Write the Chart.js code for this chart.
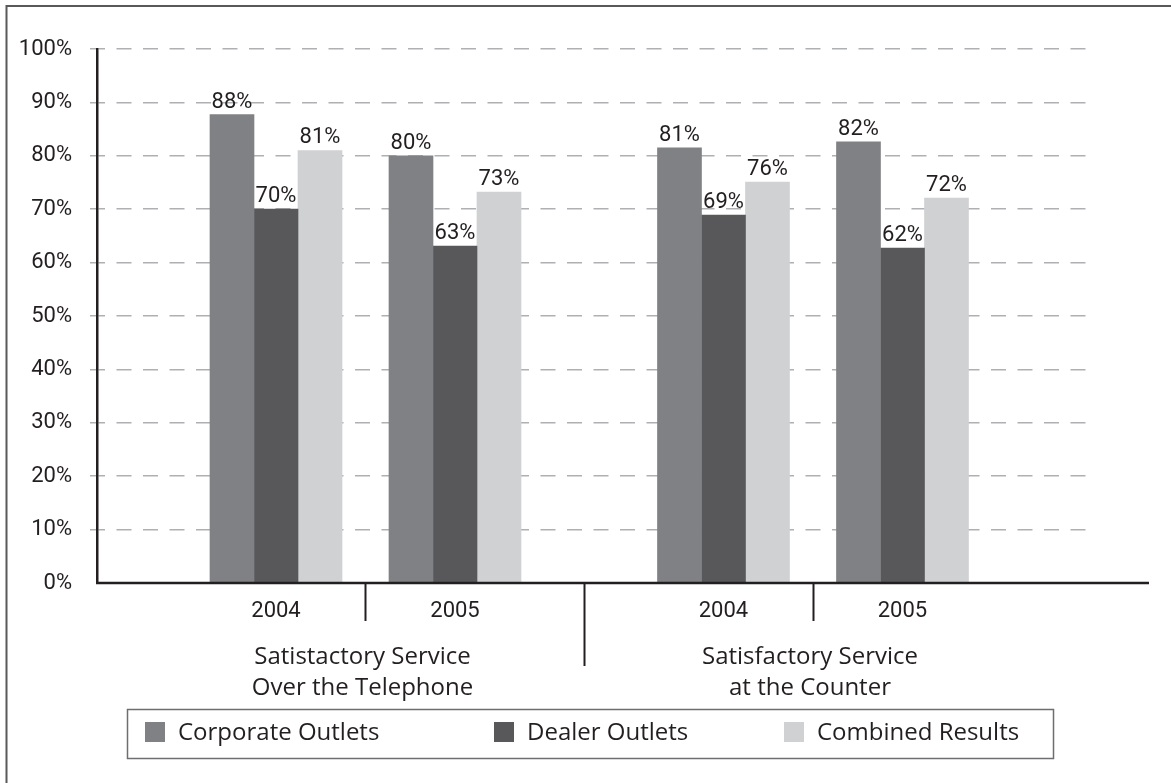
<!DOCTYPE html>
<html>
<head>
<meta charset="utf-8">
<title>Satisfactory Service</title>
<script src="https://cdn.jsdelivr.net/npm/chart.js@4.4.0/dist/chart.umd.min.js"></script>
<style>
  body { margin: 0; background: #fff; }
  canvas { display: block; }
</style>
</head>
<body>
<canvas id="chart" width="1171" height="783"></canvas>
<script>
// values (percent)
const yearLabels = ['2004', '2005', '2004', '2005'];
const xPositions = [1, 2, 3.5, 4.5];
const groupNames = [['Satistactory Service', 'Over the Telephone'], ['Satisfactory Service', 'at the Counter']];
const groupCenters = [1.5, 4];
const dividers = [1.5, 2.72, 4];
const seriesNames = ['Corporate Outlets', 'Dealer Outlets', 'Combined Results'];
const corporate = [87.7, 80.0, 81.5, 82.6];
const dealer = [70.0, 63.1, 68.9, 62.7];
const combined = [81.0, 73.2, 75.1, 72.1];
const corporateText = ['88%', '80%', '81%', '82%'];
const dealerText = ['70%', '63%', '69%', '62%'];
const combinedText = ['81%', '73%', '76%', '72%'];

const ink = '#231f20';
const numberFont = 'Roboto, "DejaVu Sans", sans-serif';
const wordFont = '"Open Sans", Roboto, sans-serif';
Chart.defaults.font.family = numberFont;
Chart.defaults.color = ink;

function points(values) {
    return xPositions.map((x, i) => ({ x: x, y: values[i] }));
}

const decorations = {
    id: 'decorations',
    afterDatasetsDraw(chart) {
        const c = chart.ctx;
        const area = chart.chartArea;
        const xs = chart.scales.x;

        // value labels over the bars
        c.save();
        c.font = '22px ' + numberFont;
        c.fillStyle = ink;
        c.textAlign = 'center';
        c.textBaseline = 'alphabetic';
        chart.data.datasets.forEach((ds, d) => {
            chart.getDatasetMeta(d).data.forEach((bar, i) => {
                c.fillText(ds.valueText[i], bar.x, bar.y - 7);
            });
        });

        // x axis line, runs past the grid
        c.strokeStyle = ink;
        c.lineWidth = 2.5;
        c.beginPath();
        c.moveTo(area.left - 1, area.bottom);
        c.lineTo(chart.width - 22, area.bottom);
        c.stroke();

        // dividers under the axis
        c.lineWidth = 2;
        dividers.forEach((v, i) => {
            const x = Math.round(xs.getPixelForValue(v)) + 0.5;
            c.beginPath();
            c.moveTo(x, area.bottom);
            c.lineTo(x, area.bottom + (i === 1 ? 83 : 38));
            c.stroke();
        });

        // group names
        c.font = '24px ' + wordFont;
        c.textBaseline = 'middle';
        groupNames.forEach((lines, g) => {
            const x = xs.getPixelForValue(groupCenters[g]) - 3;
            lines.forEach((t, k) => c.fillText(t, x, area.bottom + 74 + k * 31));
        });

        // legend box
        c.strokeStyle = '#6d6e71';
        c.lineWidth = 1.5;
        c.strokeRect(127.5, 709.5, 926, 49);
        const legendX = [145, 494, 784];
        c.textAlign = 'left';
        chart.data.datasets.forEach((ds, d) => {
            c.fillStyle = ds.backgroundColor;
            c.fillRect(legendX[d], 722, 20, 20);
            c.fillStyle = ink;
            c.fillText(ds.label, legendX[d] + 33, 733);
        });

        // frame (top and left edges only show)
        c.strokeStyle = '#58595b';
        c.lineWidth = 2;
        c.beginPath();
        c.moveTo(6.5, chart.height);
        c.lineTo(6.5, 6);
        c.lineTo(chart.width, 6);
        c.stroke();
        c.restore();
    }
};

const ctx = document.getElementById('chart').getContext('2d');
const myChart = new Chart(ctx, {
    type: 'bar',
    data: {
        datasets: [{
            label: seriesNames[0],
            data: points(corporate),
            valueText: corporateText,
            backgroundColor: '#808184'
        }, {
            label: seriesNames[1],
            data: points(dealer),
            valueText: dealerText,
            backgroundColor: '#58585a'
        }, {
            label: seriesNames[2],
            data: points(combined),
            valueText: combinedText,
            backgroundColor: '#d0d1d3'
        }]
    },
    options: {
        responsive: false,
        animation: false,
        events: [],
        barThickness: 44,
        layout: { padding: { left: 0, top: 49, right: 82, bottom: 160 } },
        plugins: {
            legend: { display: false },
            tooltip: { enabled: false }
        },
        scales: {
            x: {
                type: 'linear',
                min: 0,
                max: 5.542,
                offset: false,
                grid: { display: false, drawTicks: false, tickLength: 0, offset: false },
                border: { display: false },
                ticks: {
                    autoSkip: false,
                    maxRotation: 0,
                    padding: 15,
                    color: ink,
                    font: { size: 22 },
                    callback: (v, i) => yearLabels[i]
                },
                afterBuildTicks: s => { s.ticks = xPositions.map(v => ({ value: v })); },
                afterFit: s => { s.height = 40; }
            },
            y: {
                min: 0,
                max: 100,
                border: { display: true, color: ink, width: 2.5, dash: [15, 11.5], dashOffset: 8.5 },
                grid: {
                    color: c => (c.tick && c.tick.value === 0) ? 'rgba(0,0,0,0)' : '#aeb0b3',
                    lineWidth: 1.5,
                    drawTicks: true,
                    tickLength: 7,
                    tickBorderDash: []
                },
                ticks: {
                    stepSize: 10,
                    padding: 18,
                    color: ink,
                    font: { size: 22 },
                    callback: v => v + '%'
                },
                afterFit: s => { s.width = 97; }
            }
        }
    },
    plugins: [decorations]
});
</script>
</body>
</html>
